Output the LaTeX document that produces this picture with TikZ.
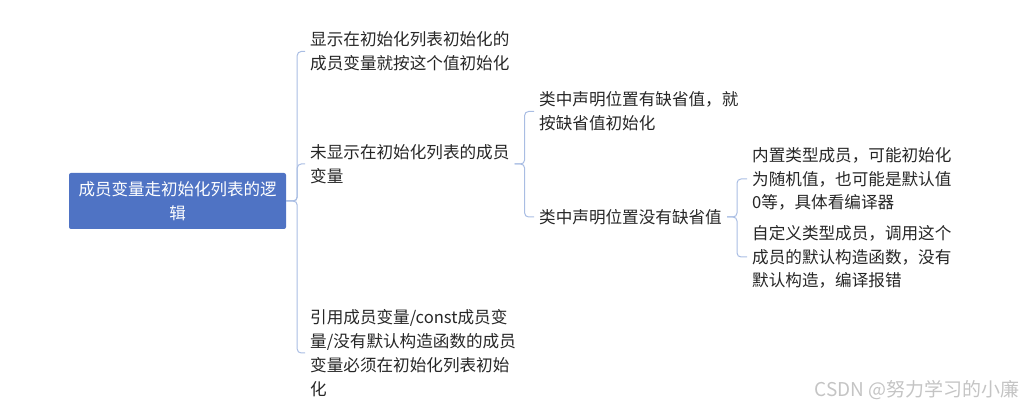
\documentclass[tikz,border=0pt]{standalone}
\usepackage{fontspec}
\setmainfont{Noto Sans CJK SC}
\definecolor{rootblue}{HTML}{4F73C4}
\definecolor{linkblue}{HTML}{A9BDE3}
\definecolor{txt}{HTML}{262626}
\definecolor{wmgray}{HTML}{C4C4C4}
\begin{document}
\begin{tikzpicture}[x=1pt,y=1pt,
  rootbox/.style={fill=rootblue,rounded corners=2pt,minimum width=217pt,minimum height=56pt,
    inner sep=0pt,align=center,text=white,font=\fontsize{16.5}{23.5}\selectfont},
  leaf/.style={anchor=west,inner sep=0pt,align=left,text=txt,font=\fontsize{16.6}{23.8}\selectfont},
  link/.style={draw=linkblue,line width=1pt,rounded corners=4pt}]
\useasboundingbox (0,0) rectangle (1026,-411);
\node[rootbox] (root) at (177.5,-201) {成员变量走初始化列表的逻\\辑};
\node[leaf] (a) at (310,-51.5) {显示在初始化列表初始化的\\成员变量就按这个值初始化};
\node[leaf] (b) at (310,-164) {未显示在初始化列表的成员\\变量};
\node[leaf] (c) at (310,-353) {引用成员变量/const成员变\\量/没有默认构造函数的成员\\变量必须在初始化列表初始\\化};
\node[leaf] (b1) at (539,-111.5) {类中声明位置有缺省值，就\\按缺省值初始化};
\node[leaf] (b2) at (539,-217) {类中声明位置没有缺省值};
\node[leaf] (b2a) at (752,-179) {内置类型成员，可能初始化\\为随机值，也可能是默认值\\0等，具体看编译器};
\node[leaf] (b2b) at (752,-257) {自定义类型成员，调用这个\\成员的默认构造函数，没有\\默认构造，编译报错};
\node[anchor=east,inner sep=0pt,text=wmgray,font=\fontsize{19}{22}\selectfont] (wm) at (1020,-390) {CSDN @努力学习的小廉};
\foreach \t in {a,b,c}
  \draw[link] (root.east) -- ++(11,0) |- ([xshift=-5pt]\t.west);
\foreach \t in {b1,b2}
  \draw[link] ([xshift=5pt]b.east) -- ++(10,0) |- ([xshift=-5pt]\t.west);
\foreach \t in {b2a,b2b}
  \draw[link] ([xshift=5pt]b2.east) -- ++(10,0) |- ([xshift=-5pt]\t.west);
\end{tikzpicture}
\end{document}
